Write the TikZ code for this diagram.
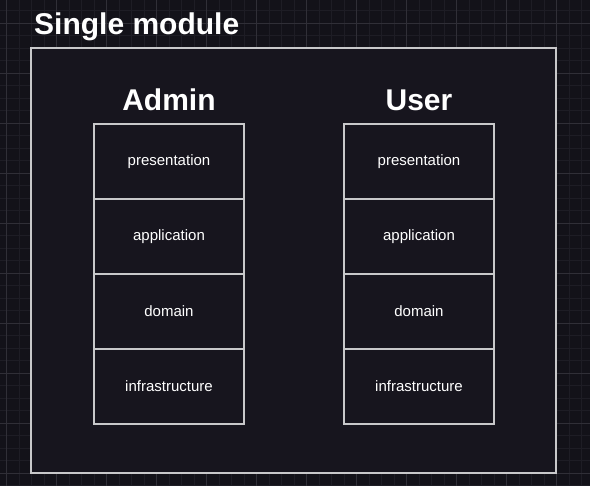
\documentclass[tikz,border=0pt]{standalone}
\usepackage{fontspec}
\setmainfont{Liberation Sans}
\usetikzlibrary{positioning}

\definecolor{canvas}{HTML}{131219}
\definecolor{panel}{HTML}{17151E}
\definecolor{gridminor}{HTML}{1E1D25}
\definecolor{gridmajor}{HTML}{302F37}
\definecolor{edge}{HTML}{C8C8CA}

\begin{document}
\begin{tikzpicture}[
    x=1pt, y=-1pt,
    node distance=0pt,
    layer/.style={rectangle, draw=edge, line width=1.3pt, fill=panel, minimum width=150pt, minimum height=75pt, inner sep=0pt, outer sep=0pt, text=white, font=\fontsize{15}{18}\selectfont},
    heading/.style={text=white, inner sep=0pt, font=\fontsize{30}{36}\selectfont\bfseries},
    frame/.style={rectangle, draw=edge, line width=1.6pt, fill=panel, inner sep=0pt, outer sep=0pt, minimum width=525pt, minimum height=425pt},
    minorline/.style={draw=gridminor, line width=0.9pt},
    majorline/.style={draw=gridmajor, line width=0.9pt}
]

% Fond et grille
\fill[canvas] (0,0) rectangle (590,486);
\useasboundingbox (0,0) rectangle (590,486);
\foreach \gx in {6.7,19.2,...,590} \draw[minorline] (\gx,0) -- (\gx,486);
\foreach \gy in {10.8,23.3,...,486} \draw[minorline] (0,\gy) -- (590,\gy);
\foreach \gx in {6.7,56.7,...,590} \draw[majorline] (\gx,0) -- (\gx,486);
\foreach \gy in {23.3,73.3,...,486} \draw[majorline] (0,\gy) -- (590,\gy);

% Cadre du module
\node[frame, anchor=north west] (module) at (31,48) {};
\node[heading, anchor=base west] (moduletitle) at (34,35) {Single module};

% Colonne Admin
\node[layer, anchor=north west] (adminpres) at (94,124) {presentation};
\node[layer, below=of adminpres] (adminapp) {application};
\node[layer, below=of adminapp] (admindom) {domain};
\node[layer, below=of admindom] (admininfra) {infrastructure};
\node[heading, above=13pt of adminpres] (admintitle) {Admin};

% Colonne User
\node[layer, anchor=north west] (userpres) at (344,124) {presentation};
\node[layer, below=of userpres] (userapp) {application};
\node[layer, below=of userapp] (userdom) {domain};
\node[layer, below=of userdom] (userinfra) {infrastructure};
\node[heading, above=13pt of userpres] (usertitle) {User};

\end{tikzpicture}
\end{document}
